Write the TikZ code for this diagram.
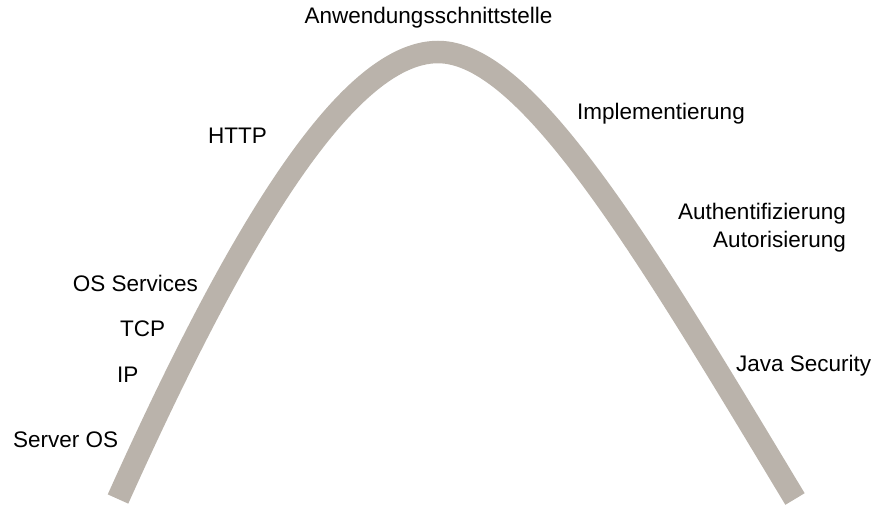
\documentclass[tikz,border=0pt]{standalone}
\usepackage{fontspec}
\setmainfont{Liberation Sans}
\definecolor{archgray}{RGB}{186,179,171}
\begin{document}
\begin{tikzpicture}[x=1pt,y=-1pt,
  lbl/.style={inner sep=0pt,font=\fontsize{22.5}{26}\selectfont},
  arch/.style={draw=archgray,line width=22.5pt,line cap=butt}]
\useasboundingbox (0,0) rectangle (875,511);
\coordinate (L) at (118,499);
\coordinate (P) at (438,52);
\coordinate (R) at (795,499);
\draw[arch] (L) .. controls (230,250) and (343,52) .. (P)
  .. controls (528,52) and (645,250) .. (R);
\node[lbl] (api) at (428.5,18) {Anwendungsschnittstelle};
\node[lbl,anchor=west] (http) at (208,136) {HTTP};
\node[lbl,anchor=west] (impl) at (577,114) {Implementierung};
\node[lbl,anchor=east] (auth) at (846,214) {Authentifizierung};
\node[lbl,anchor=east] (autor) at (846,242) {Autorisierung};
\node[lbl,anchor=east] (oss) at (198,283) {OS Services};
\node[lbl,anchor=west] (tcp) at (120,329) {TCP};
\node[lbl,anchor=west] (ip) at (117,375) {IP};
\node[lbl,anchor=west] (sos) at (13,440) {Server OS};
\node[lbl,anchor=west] (java) at (736,366) {Java Security};
\end{tikzpicture}
\end{document}
